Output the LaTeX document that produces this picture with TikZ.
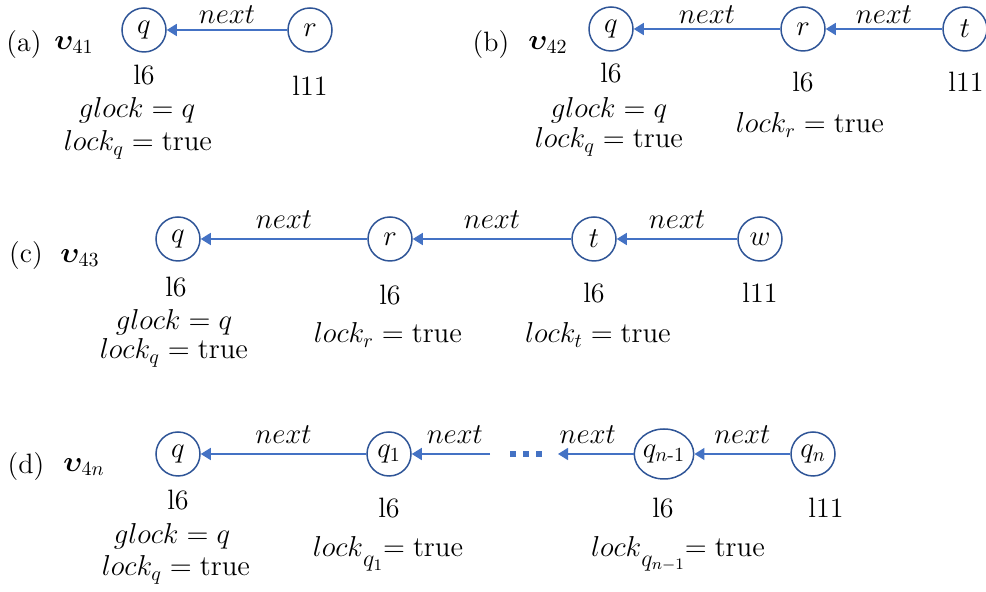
\documentclass[tikz,border=0pt]{standalone}
\usepackage{amsmath,bm}
\usetikzlibrary{arrows.meta,shapes.geometric}
\definecolor{ringblue}{HTML}{2F5597}
\definecolor{linkblue}{HTML}{4472C4}
\newcommand{\vsym}[1]{$\bm{\upsilon}_{#1}$}
% subscript set lower and larger than the usual one
\newcommand{\lowsub}[1]{\raisebox{-5pt}{\fontsize{12}{13}\selectfont$#1$}}
\begin{document}
\begin{tikzpicture}[x=0.5pt,y=-0.5pt,
  cell/.style={circle,draw=ringblue,line width=0.75pt,minimum size=22pt,inner sep=0pt,font=\fontsize{14}{17}\selectfont},
  oval/.style={ellipse,draw=ringblue,line width=0.75pt,minimum width=29pt,minimum height=25pt,inner sep=0pt,font=\fontsize{14}{17}\selectfont},
  link/.style={draw=linkblue,line width=0.8pt,-{Triangle[length=5pt,width=6pt]}},
  txt/.style={font=\fontsize{14}{17}\selectfont,inner sep=0pt},
  lbl/.style={font=\fontsize{14.5}{17}\selectfont,inner sep=0pt},
]
\useasboundingbox (0,0) rectangle (986,592);

% ---------- (a) ----------
\node[txt] (la) at (24,45) {(a)};
\node[txt] (va) at (74,45) {\vsym{41}};
\node[cell] (aq) at (144,30) {$q$};
\node[cell] (ar) at (310,30) {$r$};
\draw[link] (ar) -- node[lbl,above=3pt] {$next$} (aq);
\node[txt] (al6) at (144,75) {l6};
\node[txt] (al11) at (310,86) {l11};
\node[txt] (ag) at (137,110) {$glock = q$};
\node[txt] (alq) at (138,145) {$lock_q = \mathrm{true}$};

% ---------- (b) ----------
\node[txt] (lb) at (491,45) {(b)};
\node[txt] (vb) at (548,45) {\vsym{42}};
\node[cell] (bq) at (611,29) {$q$};
\node[cell] (br) at (803,29) {$r$};
\node[cell] (bt) at (965,29) {$t$};
\draw[link] (br) -- node[lbl,above=2.5pt] {$next$} (bq);
\draw[link] (bt) -- node[lbl,above=2.5pt] {$next$} (br);
\node[txt] (bl6a) at (611,73) {l6};
\node[txt] (bl6b) at (803,82) {l6};
\node[txt] (bl11) at (966,82) {l11};
\node[txt] (bg) at (609,110) {$glock = q$};
\node[txt] (blq) at (609,142) {$lock_q = \mathrm{true}$};
\node[txt] (blr) at (810,125) {$lock_r = \mathrm{true}$};

% ---------- (c) ----------
\node[txt] (lc) at (26,256) {(c)};
\node[txt] (vc) at (80,258) {\vsym{43}};
\node[cell] (cq) at (178,239) {$q$};
\node[cell] (cr) at (390,239) {$r$};
\node[cell] (ct) at (594,239) {$t$};
\node[cell] (cw) at (760,239) {$w$};
\draw[link] (cr) -- node[lbl,above=5pt] {$next$} (cq);
\draw[link] (ct) -- node[lbl,above=5pt] {$next$} (cr);
\draw[link] (cw) -- node[lbl,above=5pt] {$next$} (ct);
\node[txt] (cl6a) at (176,287) {l6};
\node[txt] (cl6b) at (390,295) {l6};
\node[txt] (cl6c) at (594,293) {l6};
\node[txt] (cl11) at (760,293) {l11};
\node[txt] (cg) at (174,322) {$glock = q$};
\node[txt] (clq) at (174,353) {$lock_q = \mathrm{true}$};
\node[txt] (clr) at (388,335) {$lock_r = \mathrm{true}$};
\node[txt] (clt) at (598,335) {$lock_t = \mathrm{true}$};

% ---------- (d) ----------
\node[txt] (ld) at (26,467) {(d)};
\node[txt] (vd) at (84,467) {\vsym{4n}};
\node[cell] (dq) at (178,454) {$q$};
\node[cell] (dq1) at (389,454) {$q_1$};
\node[oval] (dqm) at (664,454) {$q_{n\text{-}1}$};
\node[cell] (dqn) at (813,454) {$q_n$};
\coordinate (dfrom) at (490,454);
\coordinate (dto) at (558,454);
\draw[link] (dq1) -- node[lbl,above=5pt] {$next$} (dq);
\draw[link] (dfrom) -- node[lbl,above=5pt,xshift=2pt] {$next$} (dq1);
\draw[link] (dqm) -- node[lbl,above=5pt,xshift=-4pt] {$next$} (dto);
\draw[link] (dqn) -- node[lbl,above=5pt] {$next$} (dqm);
% ellipsis between the two halves of the chain
\foreach \xx in {513,526,539}
  \fill[linkblue] (\xx-3,451) rectangle (\xx+3,457);
\node[txt] (dl6a) at (178,500) {l6};
\node[txt] (dl6b) at (389,508) {l6};
\node[txt] (dl6c) at (663,508) {l6};
\node[txt] (dl11) at (826,508) {l11};
\node[txt] (dg) at (172,536) {$glock = q$};
\node[txt] (dlq) at (176,570) {$lock_q = \mathrm{true}$};
\node[txt] (dlq1) at (388,554) {$lock$\lowsub{q_1}$= \mathrm{true}$};
\node[txt] (dlqm) at (678,554) {$lock$\lowsub{q_{n-1}}$= \mathrm{true}$};
\end{tikzpicture}
\end{document}
